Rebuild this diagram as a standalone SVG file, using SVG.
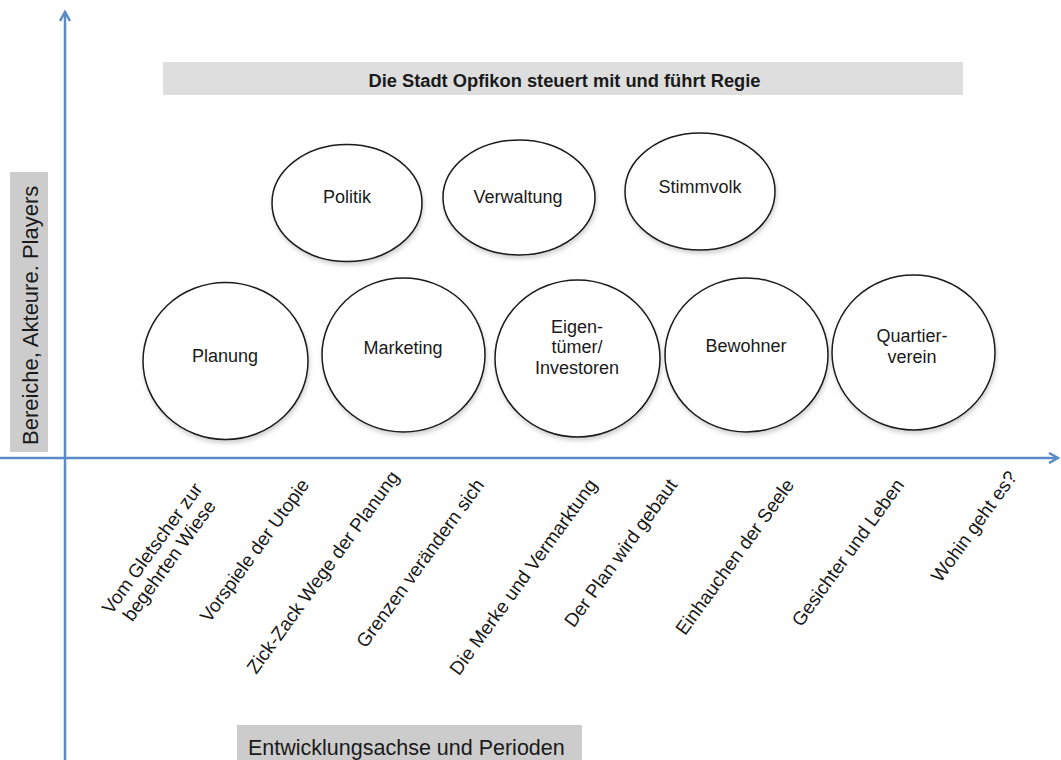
<svg xmlns="http://www.w3.org/2000/svg" width="1061" height="760" viewBox="0 0 1061 760">
<style>
.ax{stroke:#5b8bc5;stroke-width:2.5;fill:none}
.el{fill:#ffffff;stroke:#1a1a1a;stroke-width:1.5}
.t{font-family:"Liberation Sans",Arial,sans-serif;fill:#1a1a1a}
.nt{font-size:18px;text-anchor:middle}
.lb{font-size:19px;text-anchor:end}
.lc{font-size:19px;text-anchor:middle}
.big{font-size:21.5px}
</style>
<defs>
<marker id="ah" viewBox="0 0 12 12" refX="10" refY="6" markerWidth="12" markerHeight="12" markerUnits="userSpaceOnUse" orient="auto">
<path d="M1,1 L10,6 L1,11" fill="none" stroke="#5b8bc5" stroke-width="2.5"/>
</marker>
<filter id="sh" x="-10%" y="-10%" width="125%" height="130%">
<feDropShadow dx="1" dy="3" stdDeviation="2" flood-color="#000" flood-opacity="0.18"/>
</filter>
</defs>
<rect width="1061" height="760" fill="#ffffff"/>
<g id="banner">
<rect x="163" y="62" width="800" height="33" fill="#dedede"/>
<text class="t" x="564.5" y="87" font-size="18.3" font-weight="bold" text-anchor="middle">Die Stadt Opfikon steuert mit und führt Regie</text>
</g>
<g id="y-label">
<rect x="10" y="172" width="38" height="280" fill="#cccccc"/>
<text class="t" font-size="22" transform="translate(37.5,445) rotate(-90)">Bereiche, Akteure. Players</text>
</g>
<g id="x-label">
<rect x="237" y="725" width="345" height="40" fill="#cccccc"/>
<text class="t big" x="248" y="755">Entwicklungsachse und Perioden</text>
</g>
<g id="connectors">
<line class="ax" x1="65" y1="760" x2="65" y2="12" marker-end="url(#ah)"/>
<line class="ax" x1="0" y1="458" x2="1058" y2="458" marker-end="url(#ah)"/>
</g>
<g id="politik"><ellipse class="el" filter="url(#sh)" cx="347" cy="203" rx="75" ry="58.5"/><text class="t nt" x="347" y="203">Politik</text></g>
<g id="verwaltung"><ellipse class="el" filter="url(#sh)" cx="519" cy="197.5" rx="76" ry="57.5"/><text class="t nt" x="518" y="203">Verwaltung</text></g>
<g id="stimmvolk"><ellipse class="el" filter="url(#sh)" cx="700" cy="191.5" rx="75" ry="58.5"/><text class="t nt" x="700" y="193">Stimmvolk</text></g>
<g id="planung"><ellipse class="el" filter="url(#sh)" cx="225.5" cy="361" rx="82.5" ry="78.5"/><text class="t nt" x="225" y="362">Planung</text></g>
<g id="marketing"><ellipse class="el" filter="url(#sh)" cx="403.5" cy="355" rx="81.5" ry="77"/><text class="t nt" x="403" y="354">Marketing</text></g>
<g id="eigentuemer"><ellipse class="el" filter="url(#sh)" cx="577.5" cy="358.5" rx="82.5" ry="78.5"/><text class="t nt" x="577" y="333">Eigen-</text><text class="t nt" x="577" y="353">tümer/</text><text class="t nt" x="577" y="374">Investoren</text></g>
<g id="bewohner"><ellipse class="el" filter="url(#sh)" cx="746.5" cy="355" rx="81.5" ry="77"/><text class="t nt" x="746" y="352">Bewohner</text></g>
<g id="quartierverein"><ellipse class="el" filter="url(#sh)" cx="913.5" cy="352.5" rx="81.5" ry="77.5"/><text class="t nt" x="912" y="342">Quartier-</text><text class="t nt" x="912" y="363">verein</text></g>
<g id="periods">
<text class="t lc" transform="translate(157.4,552) rotate(-54)">Vom Gletscher zur</text>
<text class="t lc" transform="translate(174.4,564.4) rotate(-54)">begehrten Wiese</text>
<text class="t lb" transform="translate(310,485) rotate(-54)">Vorspiele der Utopie</text>
<text class="t lb" transform="translate(400,477) rotate(-54)">Zick-Zack Wege der Planung</text>
<text class="t lb" transform="translate(485,485) rotate(-54)">Grenzen verändern sich</text>
<text class="t lb" transform="translate(598,485) rotate(-54)">Die Merke und Vermarktung</text>
<text class="t lb" transform="translate(678,485) rotate(-54)">Der Plan wird gebaut</text>
<text class="t lb" transform="translate(795,485) rotate(-54)">Einhauchen der Seele</text>
<text class="t lb" transform="translate(905,485) rotate(-54)">Gesichter und Leben</text>
<text class="t lb" transform="translate(1018,477) rotate(-54)">Wohin geht es?</text>
</g>
</svg>
